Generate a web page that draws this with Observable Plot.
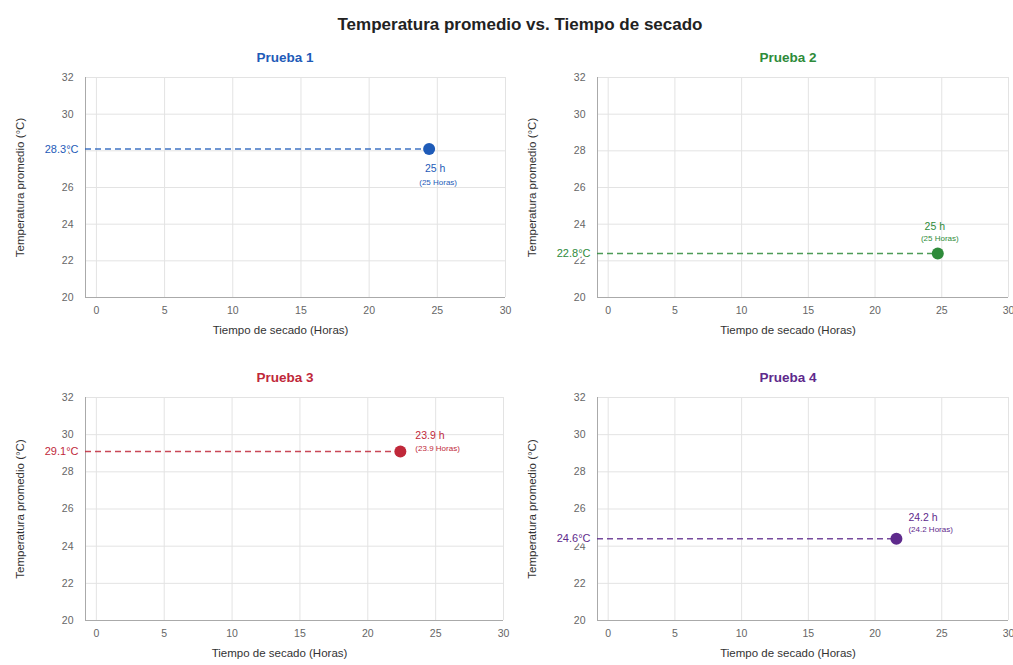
<!DOCTYPE html>
<html><head><meta charset="utf-8">
<script src="https://cdn.jsdelivr.net/npm/d3@7"></script>
<script src="https://cdn.jsdelivr.net/npm/@observablehq/plot@0.6"></script>
<style>
body{margin:0;background:#fff;font-family:"Liberation Sans",Arial,sans-serif;}
#wrap{position:relative;width:1013px;height:665px;overflow:hidden;background:#fff;}
.title{position:absolute;left:0;width:1040px;top:15px;text-align:center;font-weight:bold;font-size:17px;color:#222;}
.ptitle{position:absolute;width:200px;font-weight:bold;font-size:13.5px;text-align:center;}
</style></head><body>
<div id="wrap"><div class="title">Temperatura promedio vs. Tiempo de secado</div></div>
<script>
const pruebas = ["Prueba 1", "Prueba 2", "Prueba 3", "Prueba 4"];
const colores = ["#1E5BB8", "#2E8B3A", "#C0283A", "#5E2A8C"];
const tiempoHoras = [24.4, 24.7, 22.4, 21.6];
const temperatura = [28.1, 22.4, 29.1, 24.4];
const etiquetaTemp = ["28.3°C", "22.8°C", "29.1°C", "24.6°C"];
const etiquetaTiempo = ["25 h", "25 h", "23.9 h", "24.2 h"];
const etiquetaHoras = ["(25 Horas)", "(25 Horas)", "(23.9 Horas)", "(24.2 Horas)"];
const xTicks = [0, 5, 10, 15, 20, 25, 30];
const yTicks = [20, 22, 24, 26, 28, 30, 32];
const xLabel = "Tiempo de secado (Horas)";
const yLabel = "Temperatura promedio (°C)";

const xDomain = [-0.8, 30];
const yDomain = [20, 32];

// layout of the four panels (page geometry, not data)
const layout = [
  {left: 0,   top: 67,  width: 506, height: 275, mL: 85, mR: 1, tx: 185, ty: 50,
   a1: {dx: 6, dy: 20, anchor: "middle"}, a2: {dx: 9, dy: 33, anchor: "middle"}},
  {left: 506, top: 67,  width: 507, height: 275, mL: 91, mR: 5, tx: 688, ty: 50,
   a1: {dx: -3, dy: -27, anchor: "middle"}, a2: {dx: 2, dy: -15, anchor: "middle"}},
  {left: 0,   top: 387, width: 506, height: 278, mL: 85, mR: 3, tx: 185, ty: 370,
   a1: {dx: 15, dy: -16, anchor: "start"}, a2: {dx: 15, dy: -3, anchor: "start"}},
  {left: 506, top: 387, width: 507, height: 278, mL: 91, mR: 5, tx: 688, ty: 370,
   a1: {dx: 12, dy: -21, anchor: "start"}, a2: {dx: 12, dy: -9, anchor: "start"}}
];

const wrap = document.getElementById("wrap");

pruebas.forEach((name, i) => {
  const L = layout[i];
  const c = colores[i];
  const d = [{t: tiempoHoras[i], temp: temperatura[i]}];

  const t = document.createElement("div");
  t.className = "ptitle";
  t.style.left = L.tx + "px";
  t.style.top = L.ty + "px";
  t.style.color = c;
  t.textContent = name;
  wrap.appendChild(t);

  const svg = Plot.plot({
    width: L.width,
    height: L.height,
    marginLeft: L.mL,
    marginRight: L.mR,
    marginTop: 10,
    marginBottom: 45,
    style: {overflow: "visible", background: "transparent", fontFamily: "'Liberation Sans', Arial, sans-serif"},
    x: {domain: xDomain},
    y: {domain: yDomain},
    marks: [
      Plot.gridX(xTicks, {stroke: "#e3e3e3", strokeOpacity: 1}),
      Plot.gridY(yTicks, {stroke: "#e3e3e3", strokeOpacity: 1}),
      Plot.ruleX([xDomain[0]], {stroke: "#aaa"}),
      Plot.ruleY([yDomain[0]], {stroke: "#aaa"}),
      Plot.axisX({ticks: xTicks, tickSize: 0, tickPadding: 9, fontSize: 10.5, color: "#666", label: null}),
      Plot.axisY({ticks: yTicks, tickSize: 0, tickPadding: 12, fontSize: 10.5, color: "#666", label: null}),
      Plot.text([xLabel], {frameAnchor: "bottom", textAnchor: "middle", dy: 36, dx: -15, fontSize: 11.5, fill: "#333"}),
      Plot.text([yLabel], {frameAnchor: "left", textAnchor: "middle", rotate: -90, dx: -65, fontSize: 11.5, fill: "#333"}),
      Plot.ruleY(d, {y: "temp", x1: xDomain[0], x2: "t", stroke: c, strokeWidth: 1.5, strokeDasharray: "6,4", strokeOpacity: 0.85}),
      Plot.dot(d, {x: "t", y: "temp", r: 6, fill: c}),
      Plot.text(d, {y: "temp", frameAnchor: "left", text: () => etiquetaTemp[i], textAnchor: "end", dx: -7, fontSize: 11, fill: c, stroke: "white", strokeWidth: 5, paintOrder: "stroke"}),
      Plot.text(d, {x: "t", y: "temp", text: () => etiquetaTiempo[i], dx: L.a1.dx, dy: L.a1.dy, textAnchor: L.a1.anchor, fontSize: 10.5, fill: c}),
      Plot.text(d, {x: "t", y: "temp", text: () => etiquetaHoras[i], dx: L.a2.dx, dy: L.a2.dy, textAnchor: L.a2.anchor, fontSize: 8, fill: c})
    ]
  });
  svg.style.position = "absolute";
  svg.style.left = L.left + "px";
  svg.style.top = L.top + "px";
  wrap.appendChild(svg);
});
</script>
</body></html>
